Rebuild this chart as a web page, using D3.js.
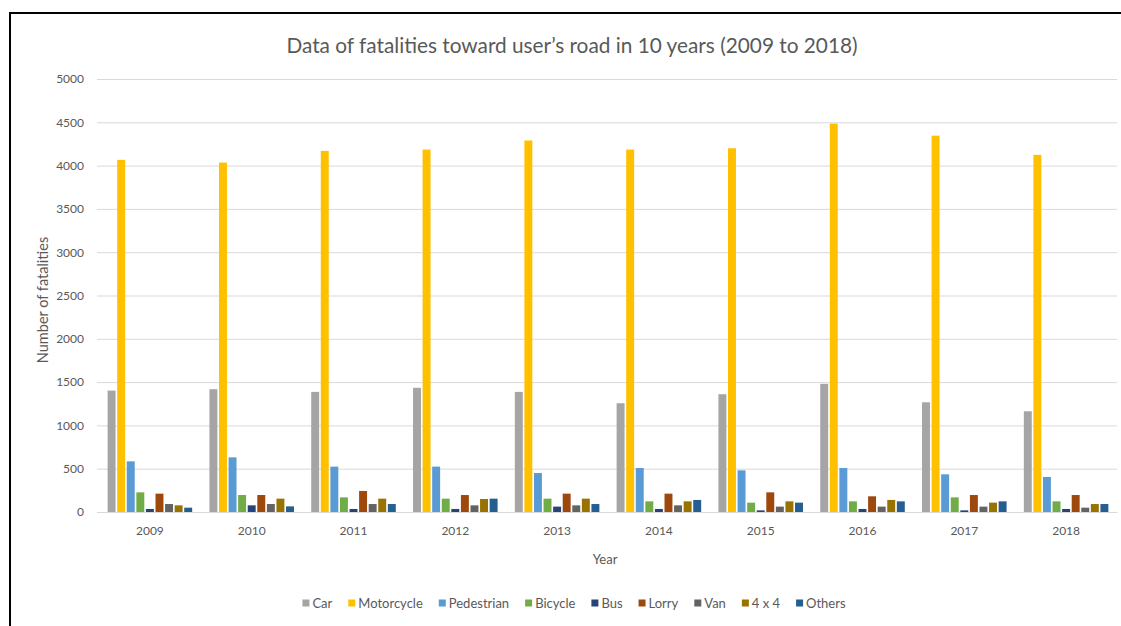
<!DOCTYPE html>
<html>
<head>
<meta charset="utf-8">
<script src="https://cdn.jsdelivr.net/npm/d3@7"></script>
<style>
  html, body { margin: 0; padding: 0; background: #ffffff; }
  svg { display: block; }
  text { font-family: Lato, "Open Sans", sans-serif; fill: #595959; }
</style>
</head>
<body>
<svg id="chart" width="1121" height="626"></svg>
<script>
// Road fatalities by road-user type, 2009–2018
const years = ["2009", "2010", "2011", "2012", "2013", "2014", "2015", "2016", "2017", "2018"];
const seriesNames = ["Car", "Motorcycle", "Pedestrian", "Bicycle", "Bus", "Lorry", "Van", "4 x 4", "Others"];
const seriesColors = ["#A5A5A5", "#FFC000", "#5B9BD5", "#70AD47", "#264478", "#9E480E", "#636363", "#997300", "#255E91"];

const car        = [1402, 1418, 1387, 1434, 1387, 1256, 1360, 1480, 1267, 1163];
const motorcycle = [4066, 4035, 4170, 4185, 4290, 4185, 4200, 4485, 4346, 4124];
const pedestrian = [585, 631, 524, 524, 450, 508, 481, 508, 435, 404];
const bicycle    = [227, 196, 169, 154, 154, 123, 108, 123, 169, 123];
const bus        = [35, 77, 35, 35, 62, 35, 19, 35, 19, 35];
const lorry      = [212, 196, 243, 196, 212, 212, 227, 181, 196, 196];
const van        = [92, 92, 92, 77, 77, 77, 62, 62, 62, 50];
const fourByFour = [77, 154, 154, 150, 154, 123, 123, 139, 108, 92];
const others     = [50, 65, 92, 154, 92, 139, 108, 123, 123, 92];

const yTicks = [0, 500, 1000, 1500, 2000, 2500, 3000, 3500, 4000, 4500, 5000];

const seriesValues = [car, motorcycle, pedestrian, bicycle, bus, lorry, van, fourByFour, others];

const svg = d3.select("#chart");

// outer frame (top and left edges of the bordered box)
svg.append("line").attr("x1", 9).attr("x2", 1121).attr("y1", 13).attr("y2", 13)
  .attr("stroke", "#000").attr("stroke-width", 2);
svg.append("line").attr("x1", 10).attr("x2", 10).attr("y1", 12).attr("y2", 626)
  .attr("stroke", "#000").attr("stroke-width", 2);

const plot = { left: 99, right: 1117, top: 79, bottom: 512 };

const x0 = d3.scaleBand().domain(years).range([plot.left, plot.right]).padding(0);
const x1 = d3.scaleBand().domain(seriesNames).range([0, x0.bandwidth()])
  .paddingInner(0.17).paddingOuter(0.9);
const y = d3.scaleLinear().domain([0, 5000]).range([plot.bottom, plot.top]);

// gridlines and value labels
const yAxis = d3.axisLeft(y).tickValues(yTicks).tickFormat(d3.format("d"))
  .tickSize(-(plot.right - plot.left + 2)).tickPadding(13);
const gy = svg.append("g").attr("transform", `translate(${plot.left - 2},0)`).call(yAxis);
gy.select(".domain").remove();
gy.selectAll(".tick line").attr("stroke", "#D9D9D9").attr("stroke-width", 1);
gy.selectAll(".tick text").attr("font-size", 12).attr("fill", "#595959")
  .style("font-family", "Lato, 'Open Sans', sans-serif");

// bars
const groups = svg.append("g").selectAll("g")
  .data(years)
  .join("g")
  .attr("transform", d => `translate(${x0(d)},0)`);

groups.selectAll("rect")
  .data((yr, i) => seriesNames.map((name, s) => ({ name, color: seriesColors[s], value: seriesValues[s][i] })))
  .join("rect")
  .attr("x", d => x1(d.name))
  .attr("width", x1.bandwidth())
  .attr("y", d => y(d.value))
  .attr("height", d => y(0) - y(d.value))
  .attr("fill", d => d.color);

// category axis
const xAxis = d3.axisBottom(x0).tickSize(0).tickPadding(14);
const gx = svg.append("g").attr("transform", `translate(0,${plot.bottom})`).call(xAxis);
gx.select(".domain").attr("stroke", "#D9D9D9");
gx.selectAll(".tick text").attr("font-size", 12).attr("fill", "#595959")
  .style("font-family", "Lato, 'Open Sans', sans-serif");

// titles
svg.append("text")
  .attr("x", 572).attr("y", 53)
  .attr("text-anchor", "middle")
  .attr("font-size", 20.8)
  .text("Data of fatalities toward user\u2019s road in 10 years (2009 to 2018)");

svg.append("text")
  .attr("x", 605).attr("y", 564)
  .attr("text-anchor", "middle")
  .attr("font-size", 13)
  .text("Year");

svg.append("text")
  .attr("transform", "translate(48,300) rotate(-90)")
  .attr("text-anchor", "middle")
  .attr("font-size", 14.5)
  .text("Number of fatalities");

// legend
const legendGap = 16;
const legend = svg.append("g");
let cursor = 0;
seriesNames.forEach((name, i) => {
  const item = legend.append("g").attr("transform", `translate(${cursor},0)`);
  item.append("rect").attr("x", 0).attr("y", -3.5).attr("width", 7).attr("height", 7)
    .attr("fill", seriesColors[i]);
  const t = item.append("text").attr("x", 10).attr("y", 4.5).attr("font-size", 13).text(name);
  cursor += 10 + t.node().getComputedTextLength() + legendGap;
});
const legendWidth = cursor - legendGap;
legend.attr("transform", `translate(${574 - legendWidth / 2},603)`);
</script>
</body>
</html>
